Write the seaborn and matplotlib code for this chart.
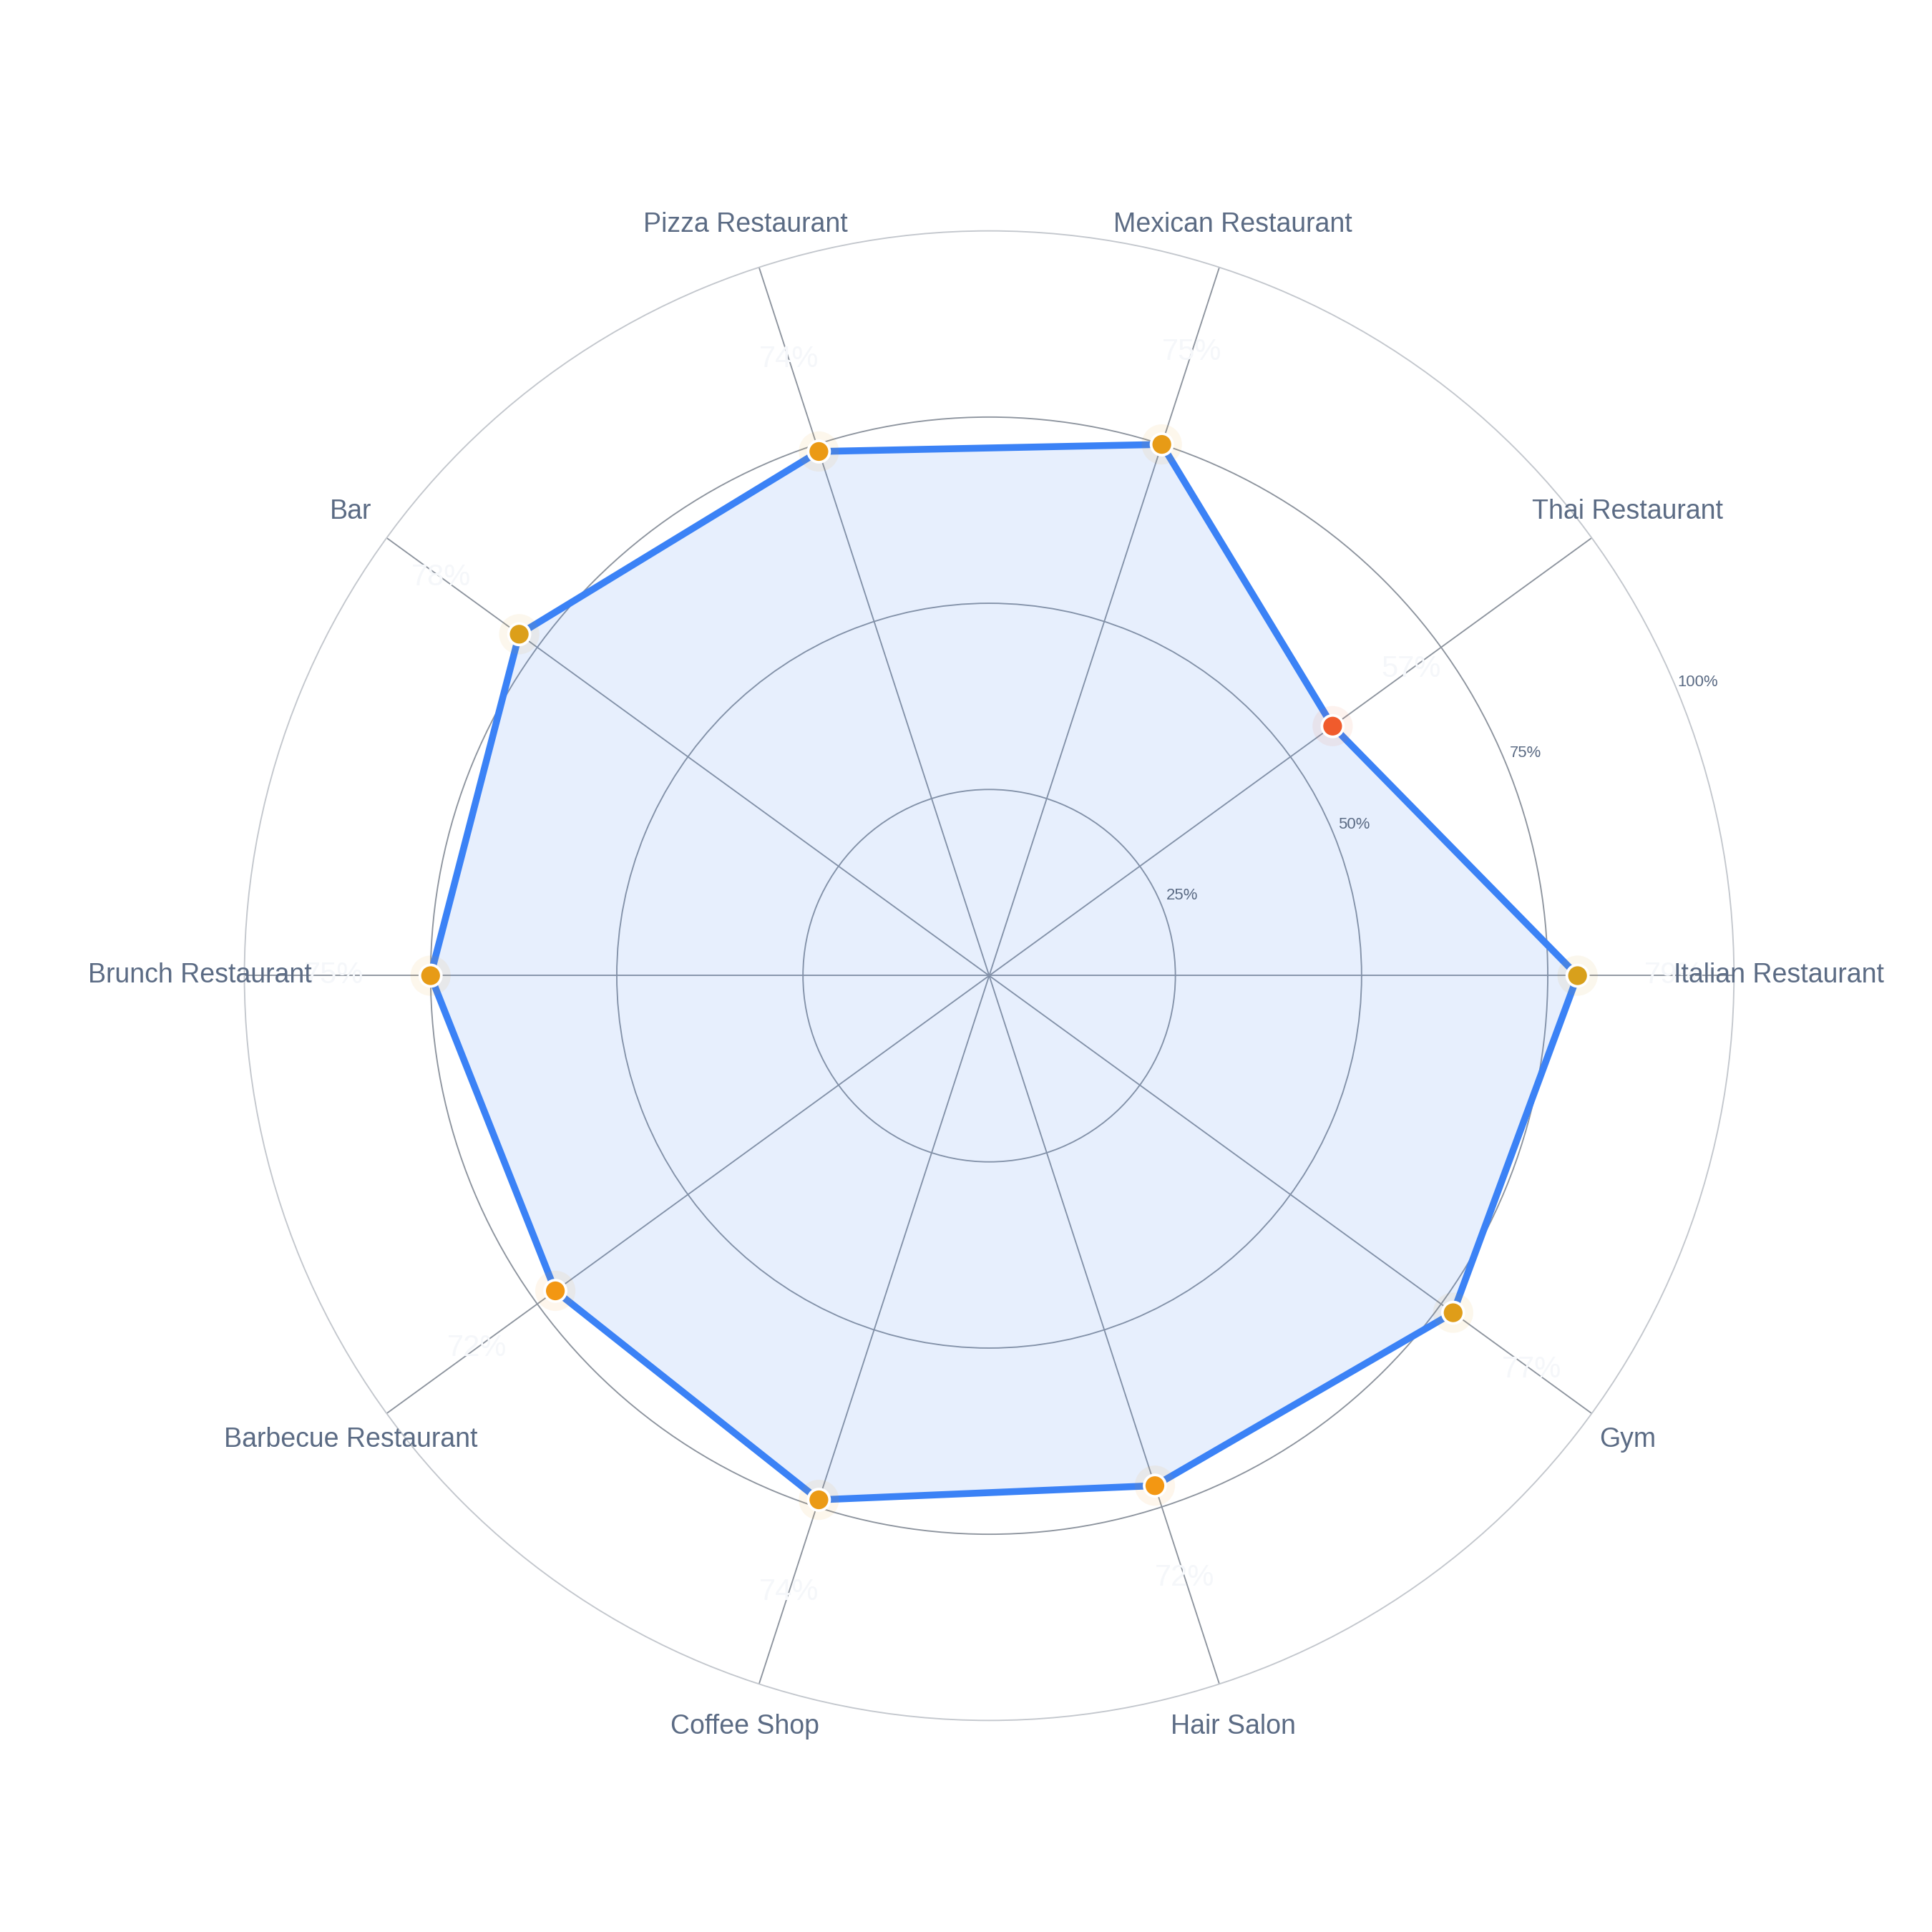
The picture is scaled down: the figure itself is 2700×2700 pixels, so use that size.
import numpy as np
import matplotlib.pyplot as plt
import seaborn as sns
from matplotlib.colors import LinearSegmentedColormap, Normalize

# data
categories = ["Italian Restaurant", "Thai Restaurant", "Mexican Restaurant", "Pizza Restaurant",
              "Bar", "Brunch Restaurant", "Barbecue Restaurant", "Coffee Shop", "Hair Salon", "Gym"]
scores = [79, 57, 75, 74, 78, 75, 72, 74, 72, 77]
value_labels = ["79%", "57%", "75%", "74%", "78%", "75%", "72%", "74%", "72%", "77%"]
r_ticks = [25, 50, 75, 100]
r_tick_labels = ["25%", "50%", "75%", "100%"]

sns.set_theme(style="white")
plt.rcParams["font.family"] = ["Liberation Sans", "DejaVu Sans"]

slate = "#5b6b84"
blue = "#3b82f6"
grid_dark = "#8d949e"
grid_light = "#c3c7cd"

# marker colour follows the score: red-orange for low, orange, gold for high
score_cmap = LinearSegmentedColormap.from_list(
    "score", [(0.0, "#f0532f"), (0.68, "#f39712"), (1.0, "#d4a11d")])
norm = Normalize(vmin=55, vmax=80)

theta = np.linspace(0, 2 * np.pi, len(categories), endpoint=False)
theta_c = np.append(theta, theta[0])
scores_c = np.append(scores, scores[0])

fig = plt.figure(figsize=(9, 9), dpi=300)
ax = fig.add_axes([0.1265, 0.1095, 0.771, 0.771], projection="polar")
ax.set_ylim(0, 100)

# grid
ax.set_xticks(theta)
ax.set_xticklabels([])
ax.set_yticks(r_ticks[:-1])
ax.set_yticklabels([])
ax.xaxis.grid(True, color=grid_dark, linewidth=0.45)
ax.yaxis.grid(True, color=grid_dark, linewidth=0.45)
ax.spines["polar"].set_color(grid_light)
ax.spines["polar"].set_linewidth(0.45)

# filled area + outline
ax.fill(theta_c, scores_c, color=blue, alpha=0.12, linewidth=0, zorder=2)
sns.lineplot(x=theta_c, y=scores_c, sort=False, estimator=None, ax=ax,
             color=blue, linewidth=2.3, zorder=3)
ax.lines[-1].set_solid_joinstyle("round")

# halo + markers
halo_colors = [score_cmap(norm(v)) for v in scores]
ax.scatter(theta, scores, s=13.5 ** 2, c=halo_colors, alpha=0.08, linewidths=0, zorder=4)
sns.scatterplot(x=theta, y=scores, hue=scores, palette=score_cmap, hue_norm=norm,
                s=7.2 ** 2, edgecolor="white", linewidth=0.9, legend=False, ax=ax, zorder=5)

# value labels (very pale, as in the reference)
for t, v, lab in zip(theta, scores, value_labels):
    ax.text(t, v + 13, lab, ha="center", va="center", fontsize=10,
            color="#f5f7fa", zorder=6, clip_on=False)

# category labels around the outside
for t, name in zip(theta, categories):
    ax.text(t, 106, name, ha="center", va="center", fontsize=9,
            color=slate, zorder=7, clip_on=False)

# radial tick labels along 22.5 degrees
tick_angle = np.deg2rad(22.5)
for r, lab in zip(r_ticks, r_tick_labels):
    ax.text(tick_angle, r + 3, lab, ha="center", va="center", fontsize=5.3,
            color=slate, zorder=7, clip_on=False)

ax.set_xlabel("")
ax.set_ylabel("")

fig.savefig("out.png", dpi=300, facecolor="white")
